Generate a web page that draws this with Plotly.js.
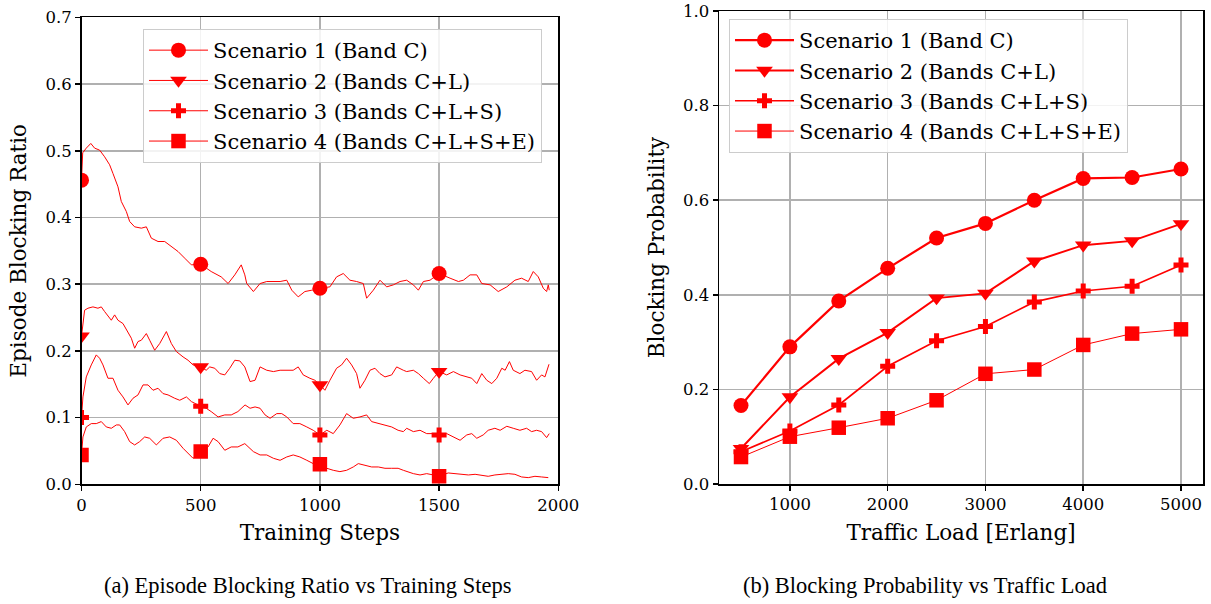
<!DOCTYPE html>
<html>
<head>
<meta charset="utf-8">
<script src="https://cdn.plot.ly/plotly-3.0.1.min.js"></script>
<style>html,body{margin:0;padding:0;background:#fff}#chart{width:1211px;height:604px}</style>
</head>
<body>
<div id="chart"></div>
<script>
// ---------- (a) Episode Blocking Ratio vs Training Steps ----------
const seriesNames = ["Scenario 1 (Band C)", "Scenario 2 (Bands C+L)", "Scenario 3 (Bands C+L+S)", "Scenario 4 (Bands C+L+S+E)"];
const markerSteps = [0, 500, 1000, 1500];

const stepsS1 = [0,5,20,39,55,76,97,118,132,153,167,188,202,223,251,272,293,321,349,377,405,433,461,500,544,586,615,643,670,685,693,721,749,777,805,833,861,882,909,937,966,1000,1042,1070,1098,1126,1154,1182,1196,1224,1252,1280,1308,1336,1364,1392,1413,1434,1462,1500,1546,1581,1602,1630,1658,1679,1714,1748,1784,1818,1846,1874,1895,1916,1937,1951,1958,1962];
const ratioS1 = [0.456,0.497,0.504,0.511,0.504,0.501,0.491,0.479,0.466,0.446,0.424,0.409,0.394,0.386,0.384,0.386,0.369,0.364,0.364,0.356,0.349,0.339,0.329,0.330,0.319,0.311,0.301,0.314,0.329,0.314,0.301,0.289,0.301,0.304,0.304,0.304,0.306,0.291,0.281,0.289,0.291,0.294,0.296,0.311,0.316,0.306,0.304,0.301,0.279,0.291,0.306,0.296,0.299,0.304,0.306,0.299,0.291,0.304,0.306,0.316,0.309,0.304,0.306,0.314,0.314,0.301,0.299,0.289,0.296,0.306,0.309,0.304,0.319,0.311,0.294,0.289,0.299,0.291];

const stepsS2 = [0,13,27,48,69,83,97,125,139,153,174,195,209,223,237,251,272,286,307,328,342,356,377,398,426,447,468,500,523,538,559,580,601,622,643,664,685,707,728,749,777,805,833,861,888,909,930,958,979,1000,1021,1042,1070,1091,1112,1133,1154,1168,1189,1210,1231,1252,1273,1301,1322,1350,1364,1392,1413,1434,1459,1476,1500,1532,1560,1588,1616,1637,1658,1679,1700,1721,1742,1763,1777,1795,1811,1839,1860,1888,1909,1930,1944,1961];
const ratioS2 = [0.222,0.261,0.264,0.266,0.264,0.266,0.259,0.246,0.254,0.246,0.241,0.229,0.219,0.204,0.214,0.216,0.226,0.216,0.201,0.211,0.221,0.229,0.211,0.199,0.191,0.186,0.179,0.176,0.171,0.176,0.174,0.166,0.164,0.174,0.186,0.185,0.176,0.154,0.156,0.176,0.171,0.169,0.171,0.171,0.171,0.176,0.164,0.159,0.156,0.149,0.141,0.156,0.174,0.179,0.189,0.179,0.166,0.144,0.156,0.171,0.174,0.166,0.161,0.164,0.176,0.171,0.169,0.171,0.166,0.159,0.151,0.159,0.169,0.164,0.169,0.164,0.161,0.159,0.151,0.166,0.156,0.151,0.159,0.174,0.171,0.184,0.171,0.166,0.171,0.169,0.156,0.164,0.161,0.180];

const stepsS3 = [0,6,20,41,62,76,90,111,132,153,174,195,216,237,258,279,300,321,342,363,391,412,440,461,500,523,544,573,601,628,656,686,707,728,749,770,791,819,840,861,888,916,945,972,1000,1029,1056,1084,1112,1140,1168,1196,1217,1245,1273,1301,1328,1350,1364,1392,1420,1448,1476,1500,1532,1560,1588,1616,1637,1658,1685,1706,1734,1756,1784,1811,1839,1867,1888,1909,1930,1951,1962];
const ratioS3 = [0.100,0.131,0.161,0.179,0.194,0.189,0.179,0.159,0.159,0.141,0.131,0.119,0.129,0.134,0.149,0.149,0.141,0.144,0.136,0.134,0.129,0.126,0.131,0.124,0.117,0.114,0.109,0.101,0.104,0.104,0.109,0.119,0.114,0.116,0.114,0.104,0.099,0.106,0.106,0.101,0.091,0.091,0.086,0.081,0.074,0.081,0.076,0.089,0.106,0.099,0.101,0.104,0.094,0.091,0.089,0.086,0.081,0.079,0.084,0.079,0.081,0.076,0.076,0.074,0.076,0.071,0.066,0.074,0.076,0.069,0.074,0.081,0.084,0.081,0.087,0.084,0.081,0.084,0.079,0.081,0.079,0.070,0.076];

const stepsS4 = [0,6,20,41,62,83,104,125,146,160,181,202,223,244,265,286,314,342,370,398,426,447,468,500,531,552,573,601,628,656,685,721,749,777,805,833,861,888,916,945,972,1000,1029,1056,1084,1112,1140,1161,1189,1217,1245,1273,1301,1328,1350,1364,1392,1420,1448,1476,1500,1538,1567,1595,1623,1651,1679,1706,1734,1763,1790,1818,1846,1874,1902,1930,1958];
const ratioS4 = [0.044,0.071,0.086,0.091,0.091,0.094,0.086,0.084,0.089,0.089,0.079,0.064,0.059,0.064,0.071,0.069,0.059,0.069,0.071,0.066,0.054,0.046,0.039,0.049,0.056,0.069,0.064,0.051,0.056,0.056,0.061,0.049,0.044,0.044,0.039,0.036,0.041,0.044,0.041,0.036,0.031,0.030,0.024,0.021,0.019,0.021,0.026,0.031,0.029,0.026,0.026,0.024,0.024,0.024,0.021,0.019,0.016,0.014,0.016,0.014,0.012,0.017,0.016,0.015,0.014,0.015,0.014,0.012,0.014,0.015,0.016,0.015,0.011,0.010,0.012,0.011,0.010];

// ---------- (b) Blocking Probability vs Traffic Load ----------
const trafficLoad = [500,1000,1500,2000,2500,3000,3500,4000,4500,5000];
const bpS1 = [0.166,0.290,0.387,0.456,0.520,0.551,0.600,0.646,0.648,0.666];
const bpS2 = [0.075,0.184,0.265,0.320,0.393,0.403,0.471,0.505,0.514,0.550];
const bpS3 = [0.068,0.112,0.167,0.249,0.303,0.333,0.385,0.408,0.418,0.463];
const bpS4 = [0.057,0.100,0.119,0.139,0.177,0.233,0.242,0.294,0.318,0.327];

// ---------- styling ----------
const RED = '#ff0000';
const symbols = ['circle', 'triangle-down', 'cross', 'square'];
const msizes = [15, 14.5, 12.5, 14.5];
const rightWidths = [2.2, 2.0, 1.7, 1.0];
const leftSteps = [stepsS1, stepsS2, stepsS3, stepsS4];
const leftVals = [ratioS1, ratioS2, ratioS3, ratioS4];
const rightVals = [bpS1, bpS2, bpS3, bpS4];

const traces = [];
for (let i = 0; i < 4; i++) {
  traces.push({x: leftSteps[i], y: leftVals[i], type: 'scatter', mode: 'lines',
    line: {color: RED, width: 1}, showlegend: false, hoverinfo: 'skip', xaxis: 'x', yaxis: 'y'});
  const mx = [], my = [];
  markerSteps.forEach(s => { const k = leftSteps[i].indexOf(s); if (k >= 0) { mx.push(s); my.push(leftVals[i][k]); } });
  traces.push({x: mx, y: my, type: 'scatter', mode: 'markers',
    marker: {color: RED, symbol: symbols[i], size: msizes[i], line: {width: 0}},
    showlegend: false, xaxis: 'x', yaxis: 'y'});
  traces.push({x: [null], y: [null], type: 'scatter', mode: 'lines+markers', name: seriesNames[i],
    line: {color: RED, width: 1}, marker: {color: RED, symbol: symbols[i], size: msizes[i]},
    legend: 'legend', legendgroup: 'a' + i, xaxis: 'x', yaxis: 'y'});
}
for (let i = 0; i < 4; i++) {
  traces.push({x: trafficLoad, y: rightVals[i], type: 'scatter', mode: 'lines+markers', name: seriesNames[i],
    line: {color: RED, width: rightWidths[i]}, marker: {color: RED, symbol: symbols[i], size: msizes[i]},
    legend: 'legend2', legendgroup: 'b' + i, xaxis: 'x2', yaxis: 'y2'});
}

const W = 1211, H = 604;
const tickFont = {family: 'DejaVu Serif', size: 16.5, color: '#000'};
const titleFont = {family: 'DejaVu Serif', size: 21.5, color: '#000'};
const axisCommon = {
  showline: true, linecolor: '#000', linewidth: 1.5, mirror: true,
  ticks: 'outside', ticklen: 5, tickwidth: 1.5, tickcolor: '#000',
  showgrid: true, gridcolor: '#b0b0b0', gridwidth: 1.5, zeroline: false,
  tickfont: tickFont, automargin: false, fixedrange: true
};
const legendCommon = {
  font: {family: 'DejaVu Serif', size: 21, color: '#000'},
  bgcolor: 'rgba(255,255,255,0.85)', bordercolor: '#cccccc', borderwidth: 1,
  xanchor: 'left', yanchor: 'top', traceorder: 'grouped', tracegroupgap: 0, itemwidth: 59
};

const layout = {
  width: W, height: H,
  margin: {l: 0, r: 0, t: 0, b: 0},
  paper_bgcolor: '#fff', plot_bgcolor: '#fff',
  xaxis: Object.assign({}, axisCommon, {domain: [81.5 / W, 558.3 / W], range: [0, 2000], tickvals: [0, 500, 1000, 1500, 2000],
    title: {text: 'Training Steps', font: titleFont, standoff: 11}}),
  yaxis: Object.assign({}, axisCommon, {domain: [(H - 484.3) / H, (H - 17.4) / H], range: [0, 0.7], dtick: 0.1, tick0: 0, tickformat: '.1f',
    title: {text: 'Episode Blocking Ratio', font: titleFont, standoff: 13}}),
  xaxis2: Object.assign({}, axisCommon, {anchor: 'y2', domain: [719 / W, 1203 / W], range: [275, 5225], tickvals: [1000, 2000, 3000, 4000, 5000],
    title: {text: 'Traffic Load [Erlang]', font: titleFont, standoff: 11}}),
  yaxis2: Object.assign({}, axisCommon, {anchor: 'x2', domain: [(H - 484) / H, (H - 11) / H], range: [0, 1.0], dtick: 0.2, tick0: 0, tickformat: '.1f',
    title: {text: 'Blocking Probability', font: titleFont, standoff: 12}}),
  legend: Object.assign({}, legendCommon, {x: 143 / W, y: 1 - 29 / H}),
  legend2: Object.assign({}, legendCommon, {x: 729 / W, y: 1 - 19 / H}),
  annotations: [
    {text: '(a) Episode Blocking Ratio vs Training Steps', xref: 'paper', yref: 'paper', x: 308 / W, y: 1 - 585 / H,
      xanchor: 'center', yanchor: 'middle', showarrow: false, font: {family: 'Liberation Serif', size: 22.5, color: '#000'}},
    {text: '(b) Blocking Probability vs Traffic Load', xref: 'paper', yref: 'paper', x: 925 / W, y: 1 - 585 / H,
      xanchor: 'center', yanchor: 'middle', showarrow: false, font: {family: 'Liberation Serif', size: 22.5, color: '#000'}}
  ]
};

Plotly.newPlot('chart', traces, layout, {staticPlot: true, displayModeBar: false});
</script>
</body>
</html>
